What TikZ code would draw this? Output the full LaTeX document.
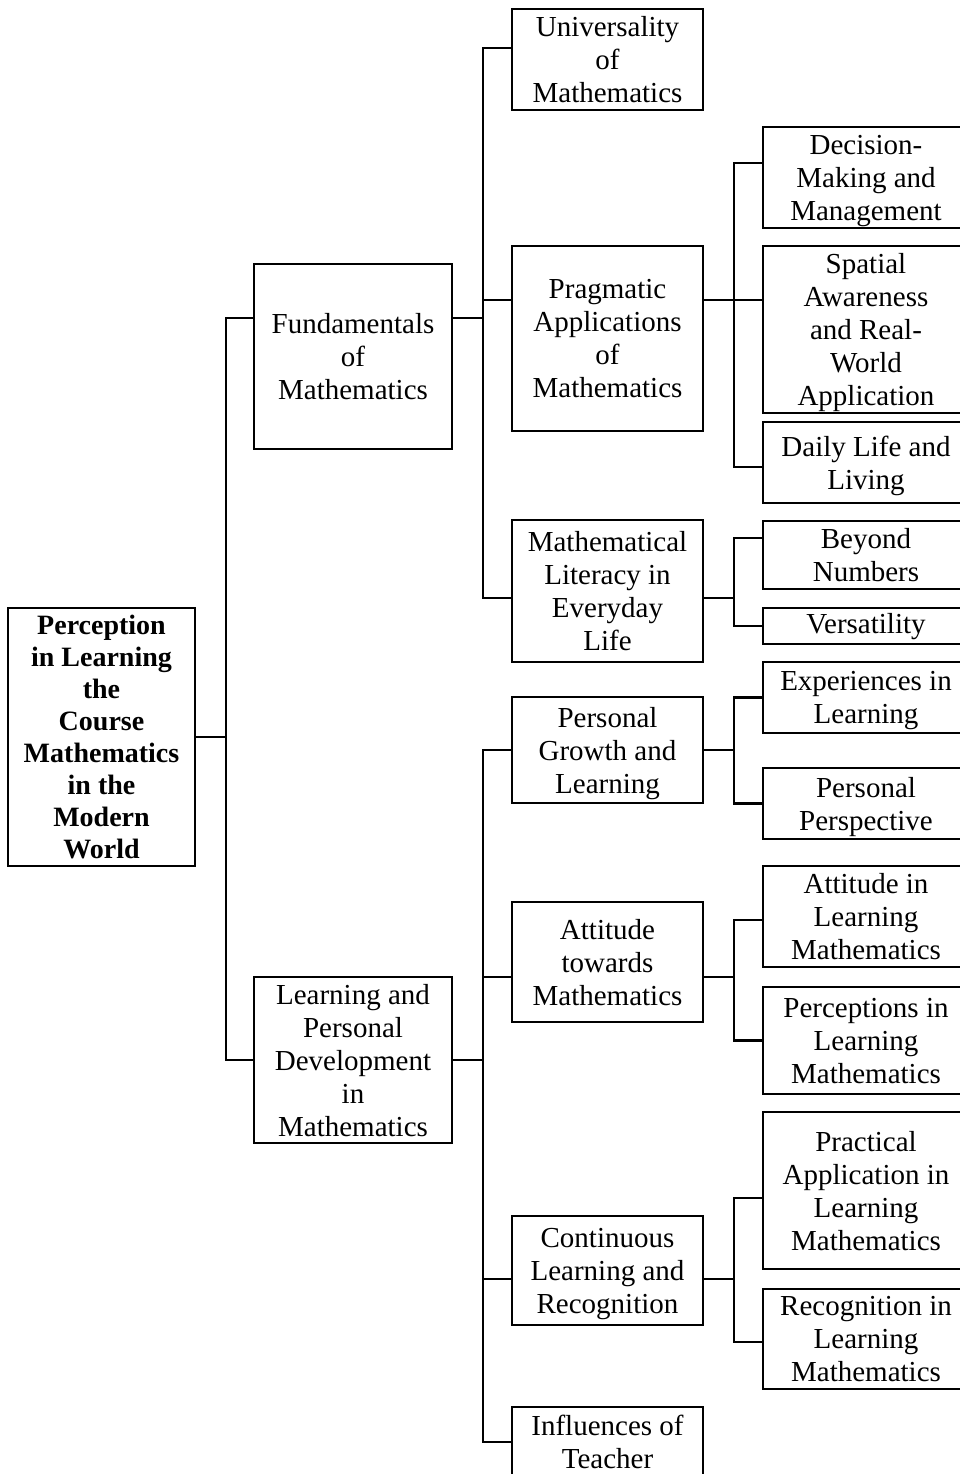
\documentclass[tikz,border=0pt]{standalone}
\usepackage{fontspec}
\setmainfont{Liberation Serif}
\usepackage{tikz}
\tikzset{
    % Node styles - plain boxes, sharp corners
    rootbox/.style={
        rectangle,
        draw=black,
        line width=2.1pt,
        minimum width=187pt,
        inner sep=0pt,
        align=center,
        text depth=-4pt,
        font=\fontsize{28}{32}\selectfont\bfseries
    },
    topicbox/.style={
        rectangle,
        draw=black,
        line width=2.1pt,
        minimum width=198pt,
        inner sep=0pt,
        align=center,
        text depth=-4pt,
        font=\fontsize{29}{33}\selectfont
    },
    subbox/.style={
        topicbox,
        minimum width=191pt
    },
    leafbox/.style={
        topicbox,
        minimum width=206pt
    },
    % Connector style
    branch/.style={
        draw=black,
        line width=2.1pt
    }
}
\begin{document}
\begin{tikzpicture}[x=1pt, y=-1pt]
    \useasboundingbox (0,0) rectangle (959,1474);

    \node[rootbox, minimum height=258pt] (root) at (101.5,737) {Perception\\in Learning\\the\\Course\\Mathematics\\in the\\Modern\\World};

    \node[topicbox, minimum height=185pt] (fund) at (353,356.5) {Fundamentals\\of\\Mathematics};
    \node[topicbox, minimum height=166pt] (learn) at (353,1060) {Learning and\\Personal\\Development\\in\\Mathematics};

    \node[subbox, minimum height=101pt] (univ) at (607.5,59.5) {Universality\\of\\Mathematics};
    \node[subbox, minimum height=185pt] (prag) at (607.5,338.5) {Pragmatic\\Applications\\of\\Mathematics};
    \node[subbox, minimum height=142pt] (lit) at (607.5,591) {Mathematical\\Literacy in\\Everyday\\Life};
    \node[subbox, minimum height=106pt] (growth) at (607.5,750) {Personal\\Growth and\\Learning};
    \node[subbox, minimum height=120pt] (attit) at (607.5,962) {Attitude\\towards\\Mathematics};
    \node[subbox, minimum height=109pt] (contin) at (607.5,1270.5) {Continuous\\Learning and\\Recognition};
    \node[subbox, minimum height=70pt] (infl) at (607.5,1442) {Influences of\\Teacher};

    \node[leafbox, minimum height=101pt] (decis) at (866,177.5) {Decision-\\Making and\\Management};
    \node[leafbox, minimum height=167pt] (spatial) at (866,329.5) {Spatial\\Awareness\\and Real-\\World\\Application};
    \node[leafbox, minimum height=81pt, text depth=-10pt] (daily) at (866,462.5) {Daily Life and\\Living};
    \node[leafbox, minimum height=68pt] (beyond) at (866,555) {Beyond\\Numbers};
    \node[leafbox, minimum height=36pt, text depth=5pt] (versat) at (866,626) {Versatility};
    \node[leafbox, minimum height=71pt] (exper) at (866,697.5) {Experiences in\\Learning};
    \node[leafbox, minimum height=71pt] (persp) at (866,803.5) {Personal\\Perspective};
    \node[leafbox, minimum height=101pt] (attin) at (866,916.5) {Attitude in\\Learning\\Mathematics};
    \node[leafbox, minimum height=107pt] (percep) at (866,1040.5) {Perceptions in\\Learning\\Mathematics};
    \node[leafbox, minimum height=157pt] (pract) at (866,1190.5) {Practical\\Application in\\Learning\\Mathematics};
    \node[leafbox, minimum height=100pt] (recog) at (866,1339) {Recognition in\\Learning\\Mathematics};

    \draw[branch] (root.east) -- ++(30,0) |- ([yshift=38.5pt]fund.west);
    \draw[branch] (root.east) -- ++(30,0) |- (learn.west);

    \draw[branch] ([yshift=38.5pt]fund.east) -- ++(30,0) |- ([yshift=11.5pt]univ.west);
    \draw[branch] ([yshift=38.5pt]fund.east) -- ++(30,0) |- ([yshift=38.5pt]prag.west);
    \draw[branch] ([yshift=38.5pt]fund.east) -- ++(30,0) |- ([yshift=-7pt]lit.west);

    \draw[branch] ([yshift=38.5pt]prag.east) -- ++(30,0) |- ([yshift=14.5pt]decis.west);
    \draw[branch] ([yshift=38.5pt]prag.east) -- ++(30,0) |- ([yshift=29.5pt]spatial.west);
    \draw[branch] ([yshift=38.5pt]prag.east) -- ++(30,0) |- ([yshift=-4.5pt]daily.west);

    \draw[branch] ([yshift=-7pt]lit.east) -- ++(30,0) |- ([yshift=17pt]beyond.west);
    \draw[branch] ([yshift=-7pt]lit.east) -- ++(30,0) |- (versat.west);

    \draw[branch] (learn.east) -- ++(30,0) |- (growth.west);
    \draw[branch] (learn.east) -- ++(30,0) |- ([yshift=-15pt]attit.west);
    \draw[branch] (learn.east) -- ++(30,0) |- ([yshift=-8.5pt]contin.west);
    \draw[branch] (learn.east) -- ++(30,0) |- (infl.west);

    \draw[branch] (growth.east) -- ++(30,0) |- (exper.west);
    \draw[branch] (growth.east) -- ++(30,0) |- (persp.west);

    \draw[branch] ([yshift=-15pt]attit.east) -- ++(30,0) |- ([yshift=-3.5pt]attin.west);
    \draw[branch] ([yshift=-15pt]attit.east) -- ++(30,0) |- (percep.west);

    \draw[branch] ([yshift=-8.5pt]contin.east) -- ++(30,0) |- ([yshift=-7.5pt]pract.west);
    \draw[branch] ([yshift=-8.5pt]contin.east) -- ++(30,0) |- ([yshift=-3pt]recog.west);
\end{tikzpicture}
\end{document}
